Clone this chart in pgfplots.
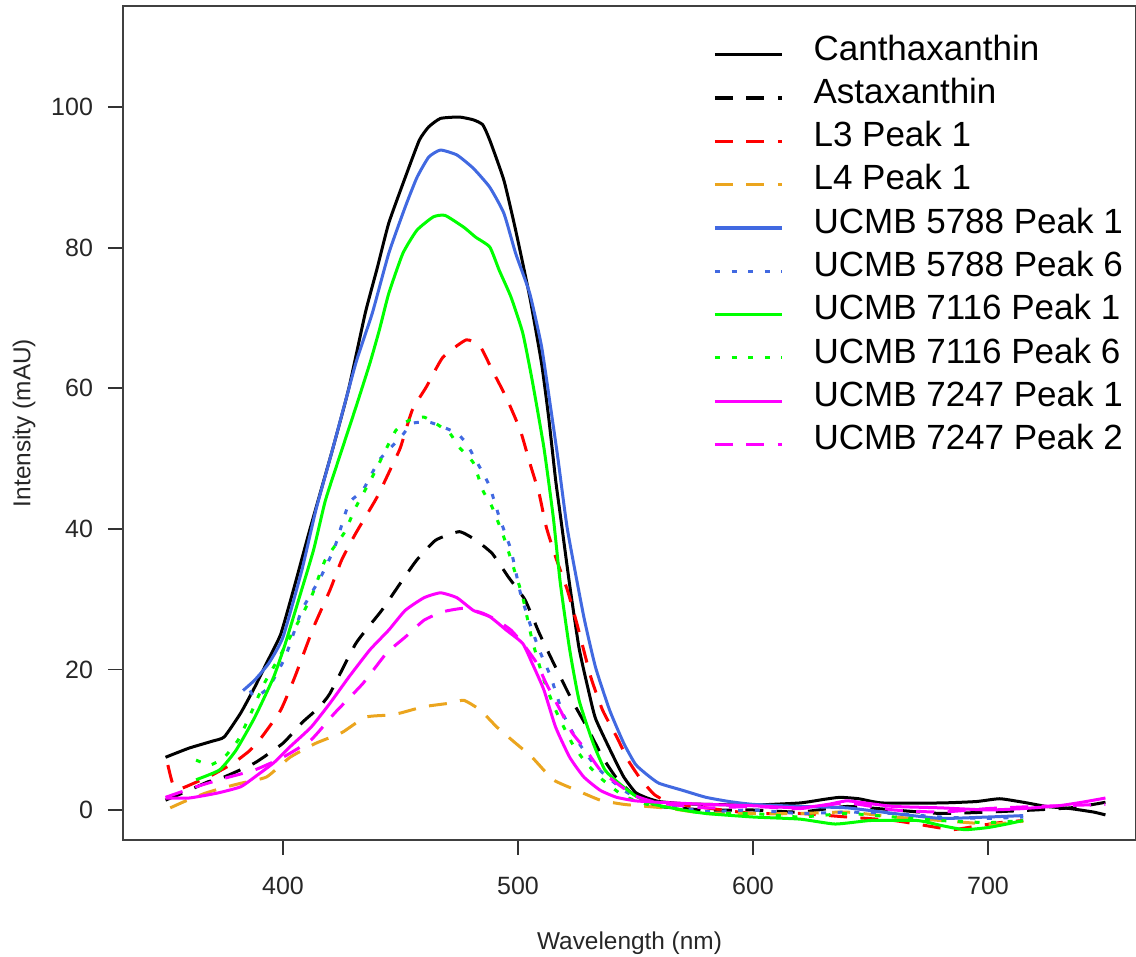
\documentclass[border=0pt]{standalone}
\usepackage{fontspec}
\setmainfont{Liberation Sans}
\usepackage{pgfplots}
\pgfplotsset{compat=1.18}
\usetikzlibrary{calc}
\definecolor{cblue}{RGB}{65,105,225}
\definecolor{cgreen}{RGB}{0,255,0}
\definecolor{cmag}{RGB}{255,0,255}
\definecolor{cred}{RGB}{255,0,0}
\definecolor{corange}{RGB}{235,165,30}
\begin{document}
\begin{tikzpicture}
\begin{axis}[
  name=ax,
  scale only axis,
  width=506.5pt, height=417pt,
  xmin=331.9, xmax=763, ymin=-4.27, ymax=114.4,
  axis line style={line width=1pt, black!75},
  xtick={400,500,600,700}, ytick={0,20,40,60,80,100},
  xtick pos=bottom, ytick pos=left,
  tick align=outside, major tick length=7.5pt,
  tick style={line width=0.9pt, black!80},
  /pgf/number format/assume math mode=true,
  ticklabel style={font=\fontsize{12.5}{14}\selectfont, text=black!85},
  xticklabel style={anchor=center, yshift=-15.5pt},
  yticklabel style={anchor=east, xshift=-4pt},
  xlabel={Wavelength (nm)}, ylabel={Intensity (mAU)},
  label style={font=\fontsize{12.2}{14}\selectfont, text=black!85},
  xlabel style={at={(axis description cs:0.5,-0.1234)}, anchor=center},
  ylabel style={at={(axis description cs:-0.0977,0.5)}, anchor=center, rotate=0},
  legend style={at={(rel axis cs:0.5824,0.968)}, anchor=north west, draw=none, fill=none,
    font=\fontsize{17.5}{21}\selectfont, inner sep=0pt, row sep=0pt, column sep=15pt,
    nodes={inner sep=0pt, text height=13.5pt, text depth=8.15pt}},
  legend cell align=left,
  legend image code/.code={\draw[#1, line width=1.6pt] (0pt,0pt) -- (33.5pt,0pt);},
  every axis plot/.append style={line width=1.5pt, smooth, tension=0.3},
  dashedR/.style={dash pattern=on 9pt off 6.7pt},
  dottedR/.style={dash pattern=on 2.5pt off 5.8pt},
]
% Canthaxanthin
\addplot[black] coordinates {
(350,7.5)(360,8.8)(370,9.8)(375,10.4)(382,13.8)(388,17.5)(393,20.9)(399,25)(405,32)(411,39.4)(421,51.2)(428,60)(435,70.7)(440,77)(445,83.5)(452,90)(458,95.3)(462,97.2)(467,98.4)(475,98.6)(481,98.2)(485,97.5)(488,95.3)(494,89.6)(499,82.5)(505,73)(510,63.6)(513,56)(516,47)(518,42)(522,32)(526,23)(530,17)(533,13)(540,8)(545,4.7)(550,2.5)(555,1.7)(560,1.2)(570,0.9)(580,0.8)(600,0.7)(620,1.0)(630,1.5)(637,1.8)(645,1.6)(655,1.0)(680,1.0)(695,1.2)(705,1.6)(715,1.1)(725,0.5)(735,0.2)(745,-0.3)(750,-0.7)};
\addlegendentry{Canthaxanthin}
% Astaxanthin
\addplot[black, dashedR] coordinates {
(350,1.4)(360,2.8)(368,4)(375,4.7)(388,6.7)(400,9.5)(408,12.4)(415,14.5)(420,16.6)(431,23.7)(442,28.4)(450,32.3)(457,35.6)(465,38.4)(475,39.6)(482,38.4)(489,36.5)(496,33.1)(503,29.9)(509,25.2)(516,20.3)(523,15.6)(530,11.4)(536,7.5)(542,4.5)(548,2.5)(555,1.2)(560,0.5)(580,0)(600,0)(620,-0.3)(640,0.5)(660,0)(680,-0.5)(700,-0.3)(720,0)(735,0.3)(745,0.8)(750,1.1)};
\addlegendentry{Astaxanthin}
% L3 Peak 1
\addplot[cred, dashedR] coordinates {
(351,6.4)(353,3.8)(356,3.0)(362,3.8)(370,5.0)(379,6.7)(386,8.5)(391,10.4)(399,14.2)(405,18.9)(413,26)(420,31.3)(425,35.6)(431,39.4)(440,44.5)(447,49.4)(450,51.6)(455,56.9)(461,60.2)(468,64.4)(478,66.9)(484,65.9)(489,62.6)(495,58.7)(501,54)(505,49.4)(509,45)(512,40.3)(516,36)(521,31.3)(525,26.6)(531,18.9)(536,14.2)(542,10.4)(547,7)(552,4.5)(558,2.2)(565,1.0)(580,0.3)(600,-0.5)(620,-0.5)(640,-1)(660,-1.5)(675,-2.3)(685,-2.8)(695,-2.3)(705,-1.8)(715,-1.5)};
\addlegendentry{L3 Peak 1}
% L4 Peak 1
\addplot[corange, dashedR] coordinates {
(352,0.3)(358,1.2)(367,2.4)(375,3.2)(382,3.8)(393,4.7)(403,7.5)(414,9.5)(425,11)(435,13.2)(445,13.5)(450,13.8)(460,14.7)(471,15.2)(477,15.6)(484,14.2)(491,11.8)(499,9.5)(506,7.5)(515,4.3)(525,2.8)(535,1.4)(545,0.8)(555,0.5)(565,0.2)(580,-0.5)(600,-0.5)(620,-0.5)(640,-0.3)(660,-1)(680,-1.5)(700,-2)(710,-1.8)(715,-1.6)};
\addlegendentry{L4 Peak 1}
% UCMB 5788 Peak 1
\addplot[cblue] coordinates {
(383,17)(388,18.5)(394,20.9)(400,24.6)(408,34.1)(414,42.7)(421,51.2)(431,63.6)(438,70.7)(445,79.2)(452,85.8)(457,90)(462,92.9)(467,93.9)(474,93.2)(481,91.3)(488,88.6)(494,84.9)(499,79.2)(505,73.5)(510,66)(514,57)(517,50)(521,40)(528,27.5)(533,20.3)(539,14.2)(545,9.5)(550,6.5)(555,5)(560,3.8)(570,2.8)(580,1.8)(590,1.2)(600,0.8)(620,0.5)(640,0.3)(660,-0.5)(680,-1.2)(700,-1)(715,-0.8)};
\addlegendentry{UCMB 5788 Peak 1}
% UCMB 5788 Peak 6
\addplot[cblue, dottedR] coordinates {
(386,17.0)(388,16)(394,17.5)(401,21.8)(408,28.4)(416,33.1)(422,37.4)(428,43.6)(434,45.5)(441,49.8)(450,53)(455,55)(462,55.2)(468,54.5)(474,53.6)(478,52.2)(482,49.8)(485,48)(488,46)(492,41.7)(497,37)(501,30.9)(505,26.6)(509,22.8)(514,18.9)(519,13.8)(525,10)(531,7.1)(536,5.3)(545,2.8)(552,1.5)(560,0.8)(580,-0.2)(600,0)(620,-0.5)(640,-0.3)(660,-0.5)(680,-1)(700,-1.2)(715,-1)};
\addlegendentry{UCMB 5788 Peak 6}
% UCMB 7116 Peak 1
\addplot[cgreen] coordinates {
(363,4.3)(373,5.7)(380,8.5)(388,13.2)(396,18.9)(401,23.7)(407,30.3)(413,37)(418,44)(424,50.2)(431,57.3)(437,63.6)(441,68.3)(445,73.5)(451,79.2)(457,82.5)(464,84.4)(469,84.6)(477,82.9)(482,81.5)(488,80.1)(492,76.8)(497,73)(502,67.9)(506,61.2)(511,51.6)(515,41.7)(518,32.3)(522,22.8)(526,15.6)(532,9.5)(537,5.7)(543,3.8)(550,2.0)(558,0.8)(570,0)(580,-0.5)(600,-1)(620,-1.3)(635,-2)(650,-1.5)(670,-1.5)(680,-2.2)(690,-2.8)(700,-2.5)(708,-2)(715,-1.5)};
\addlegendentry{UCMB 7116 Peak 1}
% UCMB 7116 Peak 6
\addplot[cgreen, dottedR] coordinates {
(363,7.1)(369,6.4)(375,7.5)(381,10)(386,13.5)(392,18)(398,21.5)(403,24.6)(412,30.3)(418,35.6)(426,39.4)(431,43.1)(438,47.4)(448,54)(454,55.5)(460,55.9)(465,55)(471,53.6)(475,51.6)(481,49.4)(485,45.5)(489,43.1)(494,38.8)(498,34.6)(502,30.3)(506,24.2)(511,18.5)(516,14.2)(523,9.5)(529,6.7)(536,4.3)(545,2.0)(555,0.8)(565,0.3)(580,-0.5)(600,-0.5)(620,-1)(640,-0.5)(660,-1)(680,-1.5)(700,-1.8)(715,-1.5)};
\addlegendentry{UCMB 7116 Peak 6}
% UCMB 7247 Peak 1
\addplot[cmag] coordinates {
(350,1.7)(360,1.7)(372,2.4)(382,3.3)(388,4.7)(396,6.7)(403,9)(412,11.8)(420,15.2)(428,18.9)(437,22.8)(445,25.6)(452,28.4)(460,30.2)(467,30.9)(474,30.2)(481,28.4)(488,27.5)(495,25.6)(502,23.7)(506,20.9)(511,17.1)(516,11.8)(522,7.5)(528,4.7)(535,2.8)(542,1.8)(550,1.3)(560,1.1)(580,0.8)(600,0.6)(620,0.3)(632,0.8)(640,1.3)(650,0.9)(660,0.5)(680,0.3)(700,0)(715,0.2)(730,0.6)(740,1.1)(750,1.7)};
\addlegendentry{UCMB 7247 Peak 1}
% UCMB 7247 Peak 2
\addplot[cmag, dashedR] coordinates {
(350,1.8)(363,3.3)(375,4.5)(388,5.7)(400,7.5)(412,10)(422,13.8)(434,18)(444,22.3)(452,24.6)(460,27)(468,28.2)(477,28.7)(485,28)(491,27)(497,25.6)(502,23.7)(508,20.9)(512,18)(518,14.2)(523,11)(529,8.5)(535,5.7)(542,3.8)(550,2.0)(560,1.0)(580,0.3)(600,0.5)(620,0.2)(640,1.0)(660,0)(680,-0.3)(700,0.2)(720,0.5)(740,0.7)(750,0.8)};
\addlegendentry{UCMB 7247 Peak 2}
\end{axis}
\pgfresetboundingbox
\path ($(ax.south west)+(-61.5pt,-58.5pt)$) rectangle ($(ax.north east)+(0pt,3pt)$);
\end{tikzpicture}
\end{document}
